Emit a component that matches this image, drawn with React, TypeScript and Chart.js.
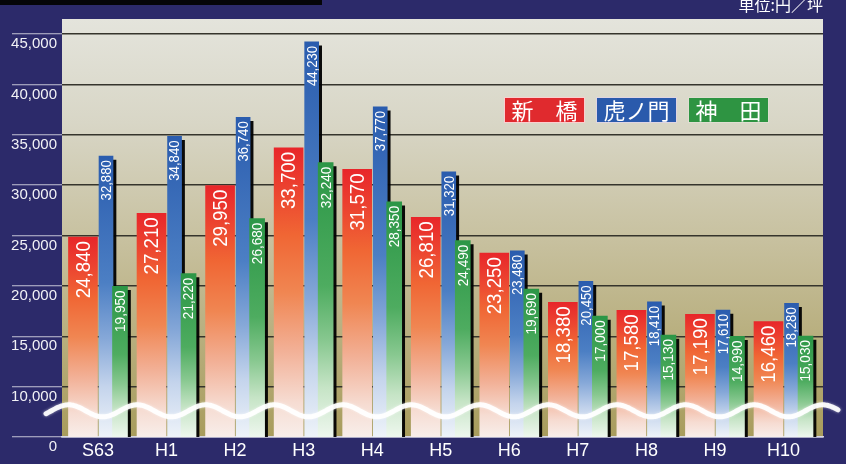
import React, { useEffect, useRef } from "react";
import { Chart, registerables } from "chart.js";

Chart.register(...registerables);

// ---- data ----
const categories = ["S63", "H1", "H2", "H3", "H4", "H5", "H6", "H7", "H8", "H9", "H10"];
const seriesNames = ["新　橋", "虎ノ門", "神　田"];
const shimbashi = [24840, 27210, 29950, 33700, 31570, 26810, 23250, 18380, 17580, 17190, 16460];
const toranomon = [32880, 34840, 36740, 44230, 37770, 31320, 23480, 20450, 18410, 17610, 18280];
const kanda = [19950, 21220, 26680, 32240, 28350, 24490, 19690, 17000, 15130, 14990, 15030];
const yTickValues = [5000, 10000, 15000, 20000, 25000, 30000, 35000, 40000, 45000];
const yTickLabels = ["0", "10,000", "15,000", "20,000", "25,000", "30,000", "35,000", "40,000", "45,000"];
const unitLabel = "単位:円／坪";

// ---- styles ----
const NAVY = "#2c2a6a";
const NUM_FONT = "'Liberation Sans', Arial, Helvetica, sans-serif";
const CJK_FONT = "'Noto Sans CJK JP', 'Noto Sans', sans-serif";
const legendColors = ["#e02a2e", "#2a5aac", "#2e9442"];
const gradientStops: [number, string][][] = [
  [[0, "#e8262a"], [0.15, "#ec4430"], [0.3, "#f06634"], [0.5, "#f08652"], [0.7, "#f2b096"], [0.88, "#f6dcd2"], [1, "#f8eeea"]],
  [[0, "#2a5cae"], [0.45, "#4c7fc4"], [0.65, "#86a8d8"], [0.82, "#c4d4ec"], [1, "#eef3f9"]],
  [[0, "#2b9646"], [0.45, "#4eac60"], [0.65, "#88c890"], [0.82, "#c6e4c6"], [1, "#eef7ee"]],
];
const barOffsets = [-0.219, 0.117, 0.321];
const barWidths = [29, 14, 15];
const valueFonts = [21, 14, 14];
const valueScale = [0.89, 0.94, 0.97];

const seriesValues = [shimbashi, toranomon, kanda];

function makeGradient(si: number) {
  return (c: any) => {
    const chart = c.chart;
    const stops = gradientStops[si];
    if (!chart.chartArea || c.type !== "data" || !c.parsed) return stops[0][1];
    const ys = chart.scales.y;
    const top = ys.getPixelForValue(c.parsed.y);
    const bottom = ys.getPixelForValue(ys.min);
    if (!isFinite(top) || !isFinite(bottom) || bottom - top < 1) return stops[0][1];
    const g = chart.ctx.createLinearGradient(0, top, 0, bottom);
    stops.forEach(([o, col]) => g.addColorStop(o, col));
    return g;
  };
}

const backgroundPlugin = {
  id: "bgPlugin",
  beforeDraw(chart: any) {
    const { ctx, chartArea: a, width, height } = chart;
    ctx.save();
    ctx.fillStyle = NAVY;
    ctx.fillRect(0, 0, width, height);
    ctx.fillStyle = "#050508";
    ctx.fillRect(0, 0, 322, 5);
    const g = ctx.createLinearGradient(0, a.top, 0, a.bottom);
    g.addColorStop(0, "#e4e4dc");
    g.addColorStop(0.25, "#d8d6c6");
    g.addColorStop(0.55, "#c6bf9c");
    g.addColorStop(1, "#a89c5c");
    ctx.fillStyle = g;
    ctx.fillRect(a.left, a.top, a.right - a.left, a.bottom - a.top);
    ctx.restore();
  },
};

const shadowPlugin = {
  id: "shadowPlugin",
  beforeDatasetDraw(chart: any, args: any) {
    const ctx = chart.ctx;
    ctx.save();
    if (args.index !== 0) {
      ctx.shadowColor = "rgba(0,0,0,0.95)";
      ctx.shadowOffsetX = 3;
      ctx.shadowOffsetY = 4;
      ctx.shadowBlur = 0;
    }
  },
  afterDatasetDraw(chart: any) {
    chart.ctx.restore();
  },
};

const overlayPlugin = {
  id: "overlayPlugin",
  afterDatasetsDraw(chart: any) {
    const { ctx } = chart;
    // value labels
    chart.data.datasets.forEach((ds: any, di: number) => {
      const meta = chart.getDatasetMeta(di);
      meta.data.forEach((el: any, i: number) => {
        const v = seriesValues[di][i];
        const { x, y } = el.getProps(["x", "y"], true);
        ctx.save();
        ctx.translate(x, y + 4);
        ctx.rotate(-Math.PI / 2);
        ctx.scale(valueScale[di], 1);
        ctx.font = `${valueFonts[di]}px ${NUM_FONT}`;
        ctx.textAlign = "right";
        ctx.textBaseline = "middle";
        ctx.fillStyle = "#ffffff";
        ctx.fillText(v.toLocaleString("en-US"), 0, 1);
        ctx.restore();
      });
    });
  },
  afterDraw(chart: any) {
    const { ctx, chartArea: a } = chart;
    const xs = chart.scales.x;
    const ys = chart.scales.y;
    // wavy break line
    const yc = ys.getPixelForValue(7600);
    const amp = 6;
    const unitPx = xs.getPixelForValue(1) - xs.getPixelForValue(0);
    const phase0 = xs.getPixelForValue(0.07);
    ctx.save();
    ctx.beginPath();
    for (let px = 46; px <= 838; px += 1) {
      const t = (px - phase0) / unitPx;
      const py = yc + amp * Math.cos(2 * Math.PI * t);
      if (px === 46) ctx.moveTo(px, py);
      else ctx.lineTo(px, py);
    }
    ctx.strokeStyle = "rgba(255,255,255,0.92)";
    ctx.lineWidth = 5;
    ctx.lineCap = "round";
    ctx.shadowColor = "rgba(255,255,255,0.6)";
    ctx.shadowBlur = 3;
    ctx.stroke();
    ctx.restore();

    // legend boxes
    const bw = 81, bh = 26, gap = 11;
    const top = 97;
    let left = a.right - 54 - (bw * 3 + gap * 2);
    chart.data.datasets.forEach((ds: any, di: number) => {
      ctx.save();
      ctx.fillStyle = legendColors[di];
      ctx.fillRect(left, top, bw, bh);
      ctx.strokeStyle = "rgba(255,235,235,0.85)";
      ctx.lineWidth = 1;
      ctx.strokeRect(left + 0.5, top + 0.5, bw - 1, bh - 1);
      ctx.fillStyle = "#ffffff";
      ctx.font = `22px ${CJK_FONT}`;
      ctx.textAlign = "center";
      ctx.textBaseline = "middle";
      ctx.fillText(ds.label, left + bw / 2, top + bh / 2 + 1);
      ctx.restore();
      left += bw + gap;
    });

    // unit label
    ctx.save();
    ctx.fillStyle = "#ffffff";
    ctx.font = `16px ${CJK_FONT}`;
    ctx.textAlign = "right";
    ctx.textBaseline = "alphabetic";
    ctx.fillText(unitLabel, a.right, 11);
    ctx.restore();
  },
};

export default function App() {
  const canvasRef = useRef<HTMLCanvasElement | null>(null);

  useEffect(() => {
    document.body.style.margin = "0";
    const canvas = canvasRef.current;
    if (!canvas) return;
    const datasets = seriesNames.map((name, si) => ({
      label: name,
      data: seriesValues[si].map((v, i) => ({ x: i + barOffsets[si], y: v })),
      backgroundColor: makeGradient(si),
      borderWidth: 0,
      barThickness: barWidths[si],
      maxBarThickness: barWidths[si],
      grouped: false,
      order: 3 - si,
    }));

    const chart = new Chart(canvas, {
      type: "bar",
      data: { datasets } as any,
      options: {
        responsive: false,
        animation: false,
        layout: { padding: { top: 19, right: 23, left: 0, bottom: 0 } },
        plugins: {
          legend: { display: false },
          tooltip: { enabled: false },
        },
        scales: {
          x: {
            type: "linear",
            offset: false,
            min: -0.525,
            max: 10.576,
            afterBuildTicks: (s: any) => {
              s.ticks = categories.map((_, i) => ({ value: i }));
            },
            afterFit: (s: any) => {
              s.height = 27;
            },
            ticks: {
              callback: (v: any) => categories[Math.round(v)] ?? "",
              color: "#ffffff",
              font: { size: 18, family: NUM_FONT },
              padding: 3,
              maxRotation: 0,
              autoSkip: false,
            },
            grid: { display: false, drawTicks: false, offset: false },
            border: { display: true, color: "#d8d8e6", width: 1.5 },
          },
          y: {
            type: "linear",
            min: 5000,
            max: 46500,
            afterBuildTicks: (s: any) => {
              s.ticks = yTickValues.map((v) => ({ value: v }));
            },
            afterFit: (s: any) => {
              s.width = 62;
            },
            ticks: {
              callback: (_v: any, i: number) => yTickLabels[i],
              color: "#f2f2f6",
              font: { size: 15, family: NUM_FONT },
              padding: -45,
              labelOffset: 10,
            },
            grid: {
              color: (c: any) => (c.tick && c.tick.value === 5000 ? "#d8d8e6" : "#35342c"),
              lineWidth: 1.5,
              tickColor: "#c4c4d6",
              tickLength: 50,
              tickWidth: 1.2,
            },
            border: { display: false },
          },
        },
      },
      plugins: [backgroundPlugin, shadowPlugin, overlayPlugin],
    } as any);

    return () => chart.destroy();
  }, []);

  return (
    <div style={{ position: "fixed", left: 0, top: 0, width: 846, height: 464, background: NAVY }}>
      <canvas ref={canvasRef} width={846} height={464} style={{ display: "block", width: 846, height: 464 }} />
    </div>
  );
}
